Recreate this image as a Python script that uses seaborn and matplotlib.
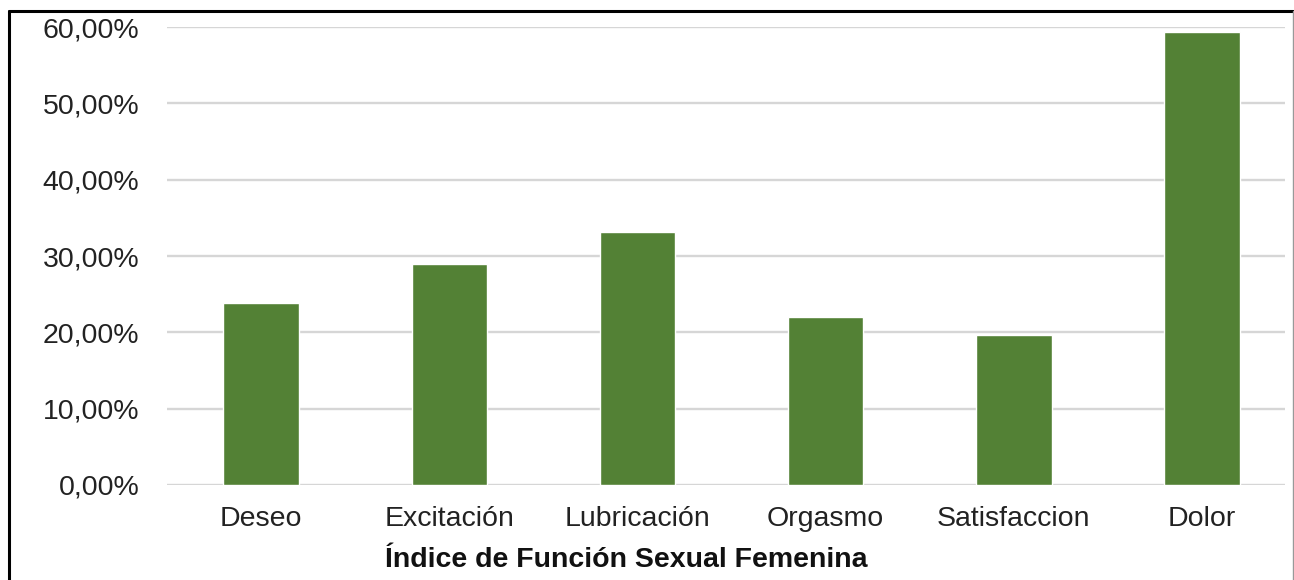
import matplotlib
matplotlib.use("Agg")
import matplotlib.pyplot as plt
import seaborn as sns
import pandas as pd
from matplotlib.ticker import FuncFormatter
from matplotlib.lines import Line2D

# data
dominios = ["Deseo", "Excitación", "Lubricación", "Orgasmo", "Satisfaccion", "Dolor"]
porcentajes = [23.9, 28.9, 33.1, 22.0, 19.7, 59.3]
yticks = [0, 10, 20, 30, 40, 50, 60]

df = pd.DataFrame({"dominio": dominios, "pct": porcentajes})

sns.set_theme(style="white")
plt.rcParams['font.family'] = ['Liberation Sans', 'DejaVu Sans']

fig = plt.figure(figsize=(12.94, 5.8), dpi=100)
ax = fig.add_axes([0.129, 0.1638, 0.864, 0.7896])

sns.barplot(data=df, x="dominio", y="pct", color="#538135", saturation=1,
            width=0.4, ax=ax, zorder=3)

ax.set_xlim(-0.5, 5.44)
ax.set_ylim(0, 60)
ax.set_yticks(yticks)
ax.yaxis.set_major_formatter(FuncFormatter(lambda v, p: ("%.2f%%" % v).replace(".", ",")))
ax.grid(axis="y", color="#d6d6d6", linewidth=1.7, zorder=0)
ax.set_axisbelow(True)
for s in ax.spines.values():
    s.set_visible(False)

ax.tick_params(axis="y", length=0, pad=20, labelsize=20.5, labelcolor="#222222")
ax.tick_params(axis="x", length=0, pad=15, labelsize=20.5, labelcolor="#222222")
ax.set_ylabel("")
ax.set_xlabel("Índice de Función Sexual Femenina", fontsize=20.5, fontweight="bold",
              color="#111111")
ax.xaxis.set_label_coords(0.4106, -0.136)

# frame around the figure, as in the source image
fig.add_artist(Line2D([0.007, 0.999], [0.981, 0.981], color="black", linewidth=2.2,
                      transform=fig.transFigure))
fig.add_artist(Line2D([0.007, 0.007], [0.0, 0.981], color="black", linewidth=2.2,
                      transform=fig.transFigure))
fig.add_artist(Line2D([0.9992, 0.9992], [0.0, 0.981], color="#999999", linewidth=1.0,
                      transform=fig.transFigure))

fig.savefig("out.png", dpi=100)
